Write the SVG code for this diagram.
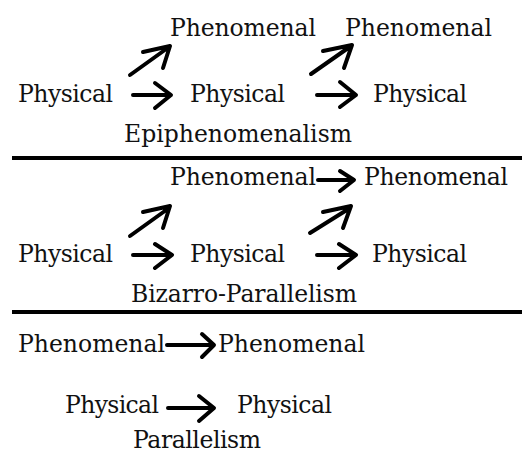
<svg xmlns="http://www.w3.org/2000/svg" width="522" height="455" viewBox="0 0 522 455">
<style>
text{font-family:"DejaVu Serif","Liberation Serif",serif;font-size:23.5px;fill:#111}
.arr{fill:none;stroke:#000;stroke-width:4;stroke-linecap:round;stroke-linejoin:round}
.rule{stroke:#000;stroke-width:4}
</style>
<rect width="522" height="455" fill="#fff"/>
<g id="connectors">
<path class="arr" d="M133 95H170M155 83L171 95L155 108"/>
<path class="arr" d="M317 95H355M340 82L356 95L340 107"/>
<path class="arr" d="M130 75L169 47M143 52L170 46L163 68"/>
<path class="arr" d="M311 74L351 46M323 51L352 45L344 68"/>
<path class="arr" d="M318 180H353M340 171L354 180L340 191"/>
<path class="arr" d="M130 236L169 208M143 212L170 206L163 228"/>
<path class="arr" d="M310 233L350 208M323 212L351 206L343 228"/>
<path class="arr" d="M133 255H171M155 244L172 255L155 268"/>
<path class="arr" d="M317 255H355M339 244L356 255L339 268"/>
<path class="arr" d="M167 345H213M202 334L214 345L202 357"/>
<path class="arr" d="M168 408H213M199 396L214 408L199 421"/>
</g>
<g id="rules">
<line class="rule" x1="12" y1="158" x2="522" y2="158"/>
<line class="rule" x1="12" y1="312" x2="522" y2="312"/>
</g>
<g id="epi-phen1"><text x="170" y="36" textLength="146">Phenomenal</text></g>
<g id="epi-phen2"><text x="345" y="36" textLength="147">Phenomenal</text></g>
<g id="epi-phys1"><text x="18" y="102" textLength="95">Physical</text></g>
<g id="epi-phys2"><text x="190" y="102" textLength="95">Physical</text></g>
<g id="epi-phys3"><text x="373" y="102" textLength="94">Physical</text></g>
<g id="epi-label"><text x="124" y="142" textLength="228">Epiphenomenalism</text></g>
<g id="biz-phen1"><text x="170" y="185" textLength="146">Phenomenal</text></g>
<g id="biz-phen2"><text x="364" y="185" textLength="144">Phenomenal</text></g>
<g id="biz-phys1"><text x="18" y="262" textLength="95">Physical</text></g>
<g id="biz-phys2"><text x="190" y="262" textLength="95">Physical</text></g>
<g id="biz-phys3"><text x="372" y="262" textLength="95">Physical</text></g>
<g id="biz-label"><text x="131" y="302" textLength="226">Bizarro-Parallelism</text></g>
<g id="par-phen1"><text x="18" y="352" textLength="147">Phenomenal</text></g>
<g id="par-phen2"><text x="218" y="352" textLength="147">Phenomenal</text></g>
<g id="par-phys1"><text x="65" y="413" textLength="94">Physical</text></g>
<g id="par-phys2"><text x="237" y="413" textLength="95">Physical</text></g>
<g id="par-label"><text x="133" y="448" textLength="128">Parallelism</text></g>
</svg>
